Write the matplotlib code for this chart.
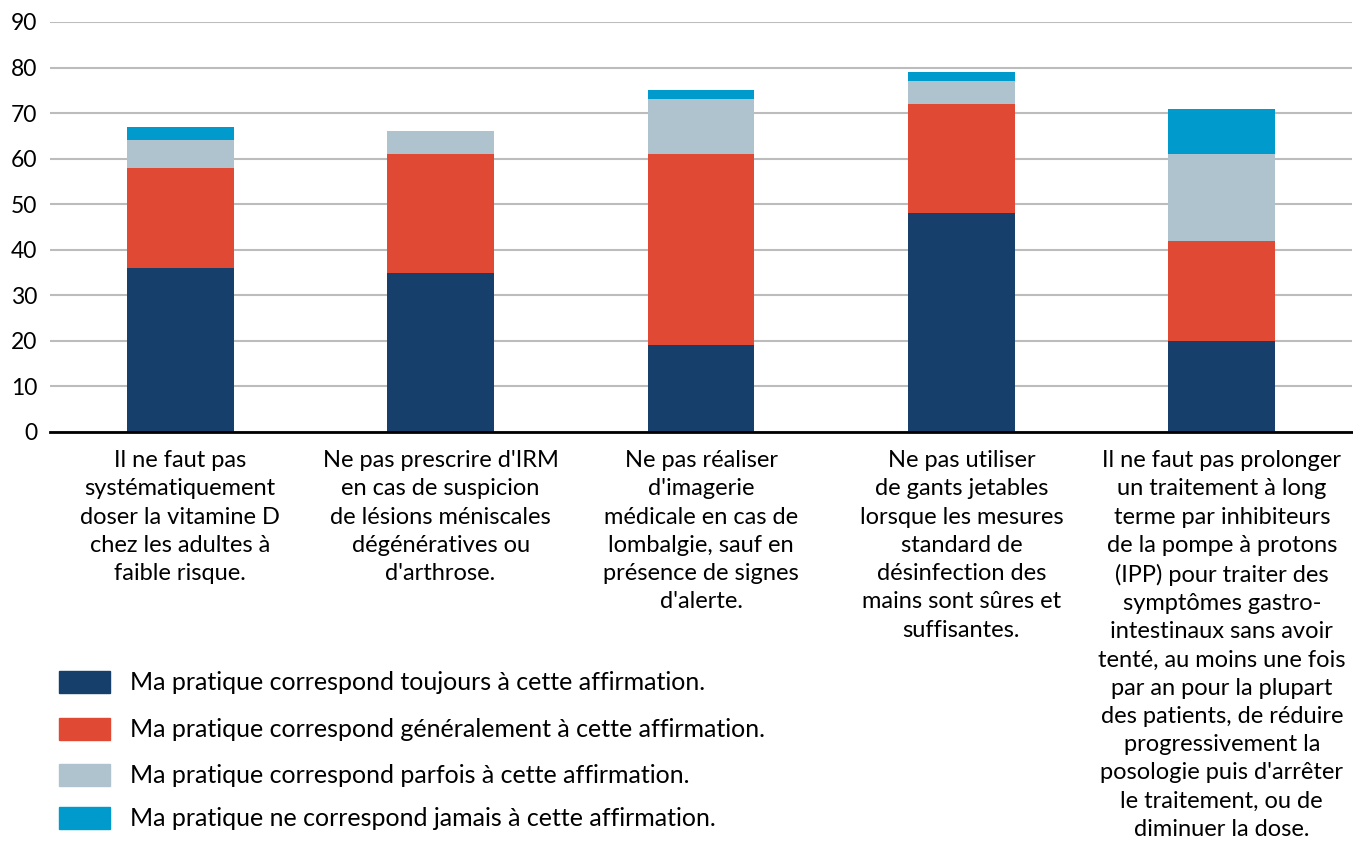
import matplotlib
matplotlib.use("Agg")
import matplotlib.pyplot as plt
from matplotlib.patches import Rectangle

categories = [
    "Il ne faut pas\nsystématiquement\ndoser la vitamine D\nchez les adultes à\nfaible risque.",
    "Ne pas prescrire d'IRM\nen cas de suspicion\nde lésions méniscales\ndégénératives ou\nd'arthrose.",
    "Ne pas réaliser\nd'imagerie\nmédicale en cas de\nlombalgie, sauf en\nprésence de signes\nd'alerte.",
    "Ne pas utiliser\nde gants jetables\nlorsque les mesures\nstandard de\ndésinfection des\nmains sont sûres et\nsuffisantes.",
    "Il ne faut pas prolonger\nun traitement à long\nterme par inhibiteurs\nde la pompe à protons\n(IPP) pour traiter des\nsymptômes gastro-\nintestinaux sans avoir\ntenté, au moins une fois\npar an pour la plupart\ndes patients, de réduire\nprogressivement la\nposologie puis d'arrêter\nle traitement, ou de\ndiminuer la dose.",
]
series_names = [
    "Ma pratique correspond toujours à cette affirmation.",
    "Ma pratique correspond généralement à cette affirmation.",
    "Ma pratique correspond parfois à cette affirmation.",
    "Ma pratique ne correspond jamais à cette affirmation.",
]
toujours = [36, 35, 19, 48, 20]
generalement = [22, 26, 42, 24, 22]
parfois = [6, 5, 12, 5, 19]
jamais = [3, 0, 2, 2, 10]
colors = ["#16406b", "#e04a34", "#afc3ce", "#009acd"]
yticks = [0, 10, 20, 30, 40, 50, 60, 70, 80, 90]

plt.rcParams['font.family'] = ['Lato', 'DejaVu Sans']

W, H = 1353, 846
fig = plt.figure(figsize=(W / 100, H / 100), dpi=100)
ax = fig.add_axes([50 / W, 1 - 432 / H, 1302 / W, 410 / H])

x = list(range(len(categories)))
bottom = [0] * len(categories)
for vals, c in zip([toujours, generalement, parfois, jamais], colors):
    ax.bar(x, vals, width=0.41, bottom=bottom, color=c, zorder=3)
    bottom = [b + v for b, v in zip(bottom, vals)]

ax.set_xlim(-0.5, 4.5)
ax.set_ylim(0, 90)
ax.set_yticks(yticks)
ax.set_yticklabels([str(t) for t in yticks], fontsize=16.5)
ax.yaxis.grid(True, color="#bcbcbc", linewidth=1.5, zorder=0)
ax.set_axisbelow(True)
for s in ["top", "right", "left"]:
    ax.spines[s].set_visible(False)
ax.spines["bottom"].set_color("black")
ax.spines["bottom"].set_linewidth(2)
ax.spines["bottom"].set_zorder(4)
ax.tick_params(axis="y", length=0, pad=9)
ax.tick_params(axis="x", length=0)
ax.set_xticks([])

for i, lab in enumerate(categories):
    ax.text(i, -4.0, lab, ha="center", va="top", fontsize=17,
            linespacing=1.425, color="black")

# legend
leg_y = [682, 729, 775, 818]
for name, c, yy in zip(series_names, colors, leg_y):
    fig.patches.append(Rectangle((59 / W, 1 - (yy + 11) / H), 51 / W, 22 / H,
                                 transform=fig.transFigure, color=c))
    fig.text(130 / W, 1 - yy / H, name, fontsize=18, va="center", ha="left")

fig.savefig("out.png", dpi=100)
